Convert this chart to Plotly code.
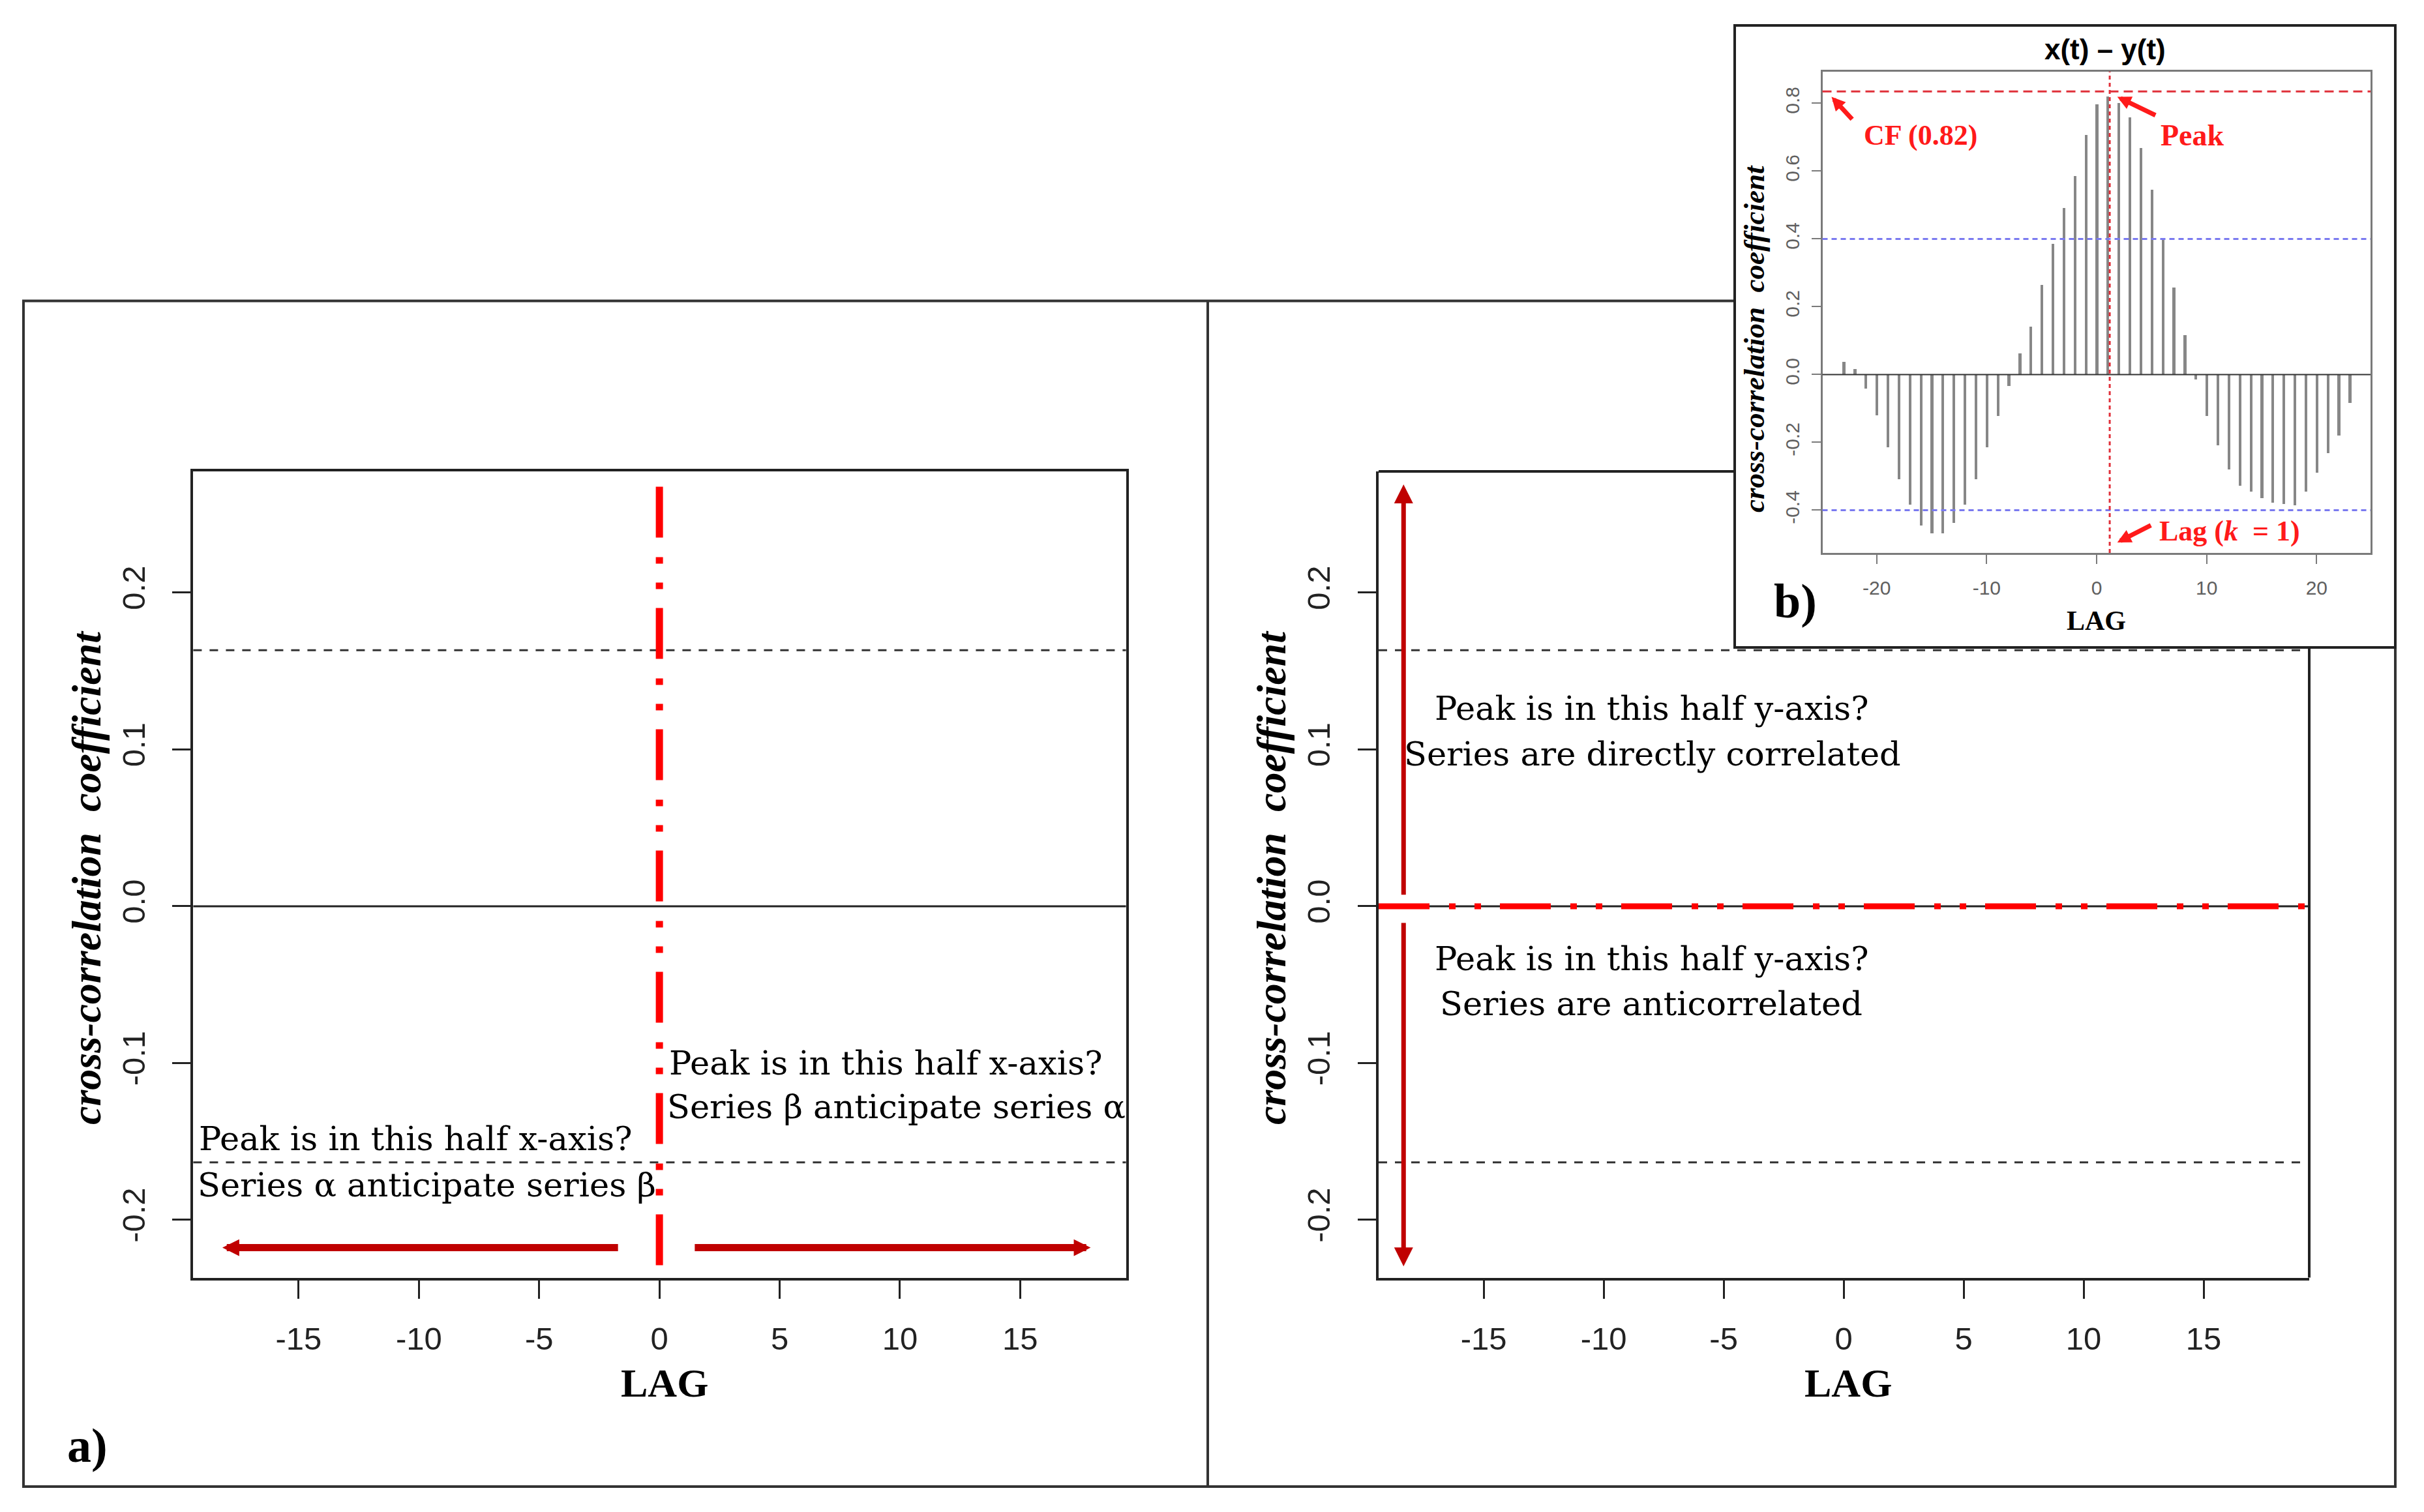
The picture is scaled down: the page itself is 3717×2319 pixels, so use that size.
import plotly.graph_objects as go

W, H = 3717, 2319
OFF = 8  # the page body has an 8px margin; shift content back by that much
SERIF = 'Liberation Serif'
TEXT_SERIF = 'DejaVu Serif'
SANS = 'Liberation Sans'

# ---- data ---------------------------------------------------------------
# inset b): cross-correlation x(t) - y(t), lags -23..23
lags = list(range(-23, 24))
ccf = [0.037, 0.017, -0.042, -0.121, -0.214, -0.309, -0.384, -0.445, -0.468, -0.468,
       -0.438, -0.384, -0.309, -0.214, -0.123, -0.033, 0.063, 0.142, 0.265, 0.386,
       0.492, 0.585, 0.706, 0.796, 0.820, 0.801, 0.759, 0.669, 0.545, 0.400,
       0.256, 0.116, -0.014, -0.123, -0.209, -0.279, -0.328, -0.345, -0.365, -0.377,
       -0.382, -0.386, -0.345, -0.289, -0.231, -0.179, -0.084]

cf_line = 0.835      # red dashed level at the peak, CF (0.82)
peak_lag = 1.19      # red dashed vertical, k = 1
inset_conf = 0.4     # blue dotted bounds

main_conf = 0.1633   # black dashed bounds in the two big panels
main_xrange = [-19.38, 19.4]
main_yrange = [-0.2368, 0.2773]
inset_xrange = [-24.93, 24.9]
inset_yrange = [-0.526, 0.893]

main_xticks = [-15, -10, -5, 0, 5, 10, 15]
main_xlabels = ['-15', '-10', '-5', '0', '5', '10', '15']
main_yticks = [-0.2, -0.1, 0.0, 0.1, 0.2]
main_ylabels = ['-0.2', '-0.1', '0.0', '0.1', '0.2']
inset_xticks = [-20, -10, 0, 10, 20]
inset_xlabels = ['-20', '-10', '0', '10', '20']
inset_yticks = [-0.4, -0.2, 0.0, 0.2, 0.4, 0.6, 0.8]
inset_ylabels = ['-0.4', '-0.2', '0.0', '0.2', '0.4', '0.6', '0.8']

lag0_span = [0.2675, -0.233]   # red dash-dot at lag 0 in a)

# arrows: (tail, head) in data units
arrow_a_right = ((1.43, -0.2177), (17.93, -0.2177))
arrow_a_left = ((-1.68, -0.2177), (-18.17, -0.2177))
arrow_c_up = ((-18.34, 0.0067), (-18.34, 0.269))
arrow_c_down = ((-18.34, -0.010), (-18.34, -0.2296))

a_left_text = ['Peak is in this half x-axis?', 'Series α anticipate series β']
a_right_text = ['Peak is in this half x-axis?', 'Series β anticipate series α']
c_top_text = ['Peak is in this half y-axis?', 'Series are directly correlated']
c_bottom_text = ['Peak is in this half y-axis?', 'Series are anticorrelated']


def px(x):
    return (x - OFF) / W


def py(y):
    return 1 - (y - OFF) / H


DASHDOT = '78px,30px,10px,29px,10px,29px'

fig = go.Figure()

# inset bars
fig.add_trace(go.Bar(x=lags, y=ccf, width=0.25, marker=dict(color='#878787', line=dict(width=0)),
                     xaxis='x3', yaxis='y3', showlegend=False))

# red dash-dot lines
fig.add_trace(go.Scatter(x=[0, 0], y=lag0_span, mode='lines', showlegend=False,
                         line=dict(color='#FF0000', width=11, dash=DASHDOT), xaxis='x', yaxis='y'))
fig.add_trace(go.Scatter(x=main_xrange, y=[0, 0], mode='lines', showlegend=False,
                         line=dict(color='#FF0000', width=9, dash=DASHDOT), xaxis='x2', yaxis='y2'))

main_ax = dict(showline=True, linewidth=4, linecolor='#222', ticks='outside', ticklen=28,
               tickwidth=3, tickcolor='#222', showgrid=False, zeroline=False,
               tickfont=dict(family=SANS, size=49, color='#222'))
inset_ax = dict(showline=True, linewidth=3, linecolor='#7a7a7a', mirror=True, ticks='outside',
                ticklen=14, tickwidth=2, tickcolor='#7a7a7a', showgrid=False, zeroline=False,
                tickfont=dict(family=SANS, size=30, color='#606060'))

fig.update_layout(
    width=W, height=H, autosize=False,
    margin=dict(l=0, r=0, t=0, b=0),
    paper_bgcolor='white', plot_bgcolor='white',
    showlegend=False, bargap=0,
    xaxis=dict(main_ax, domain=[px(296.4), px(1726.6)], anchor='y', range=main_xrange,
               tickvals=main_xticks, ticktext=main_xlabels, mirror=True, ticklabelstandoff=20),
    yaxis=dict(main_ax, domain=[py(1959.5), py(723)], anchor='x', range=main_yrange,
               tickvals=main_yticks, ticktext=main_ylabels, tickangle=-90, mirror=True,
               ticklabelstandoff=23),
    xaxis2=dict(main_ax, domain=[px(2114), px(3541)], anchor='y2', range=main_xrange,
                tickvals=main_xticks, ticktext=main_xlabels, ticklabelstandoff=20),
    yaxis2=dict(main_ax, domain=[py(1959.5), py(723)], anchor='x2', range=main_yrange,
                tickvals=main_yticks, ticktext=main_ylabels, tickangle=-90, ticklabelstandoff=23),
    xaxis3=dict(inset_ax, domain=[px(2794.5), px(3635)], anchor='y3', range=inset_xrange,
                tickvals=inset_xticks, ticktext=inset_xlabels, ticklabelstandoff=11),
    yaxis3=dict(inset_ax, domain=[py(848), py(110)], anchor='x3', range=inset_yrange,
                tickvals=inset_yticks, ticktext=inset_ylabels, tickangle=-90, ticklabelstandoff=7),
)

shapes = []
# outer frames
shapes.append(dict(type='rect', xref='paper', yref='paper', x0=px(36), x1=px(3673),
                   y0=py(2280), y1=py(461.5), line=dict(color='#333', width=4), layer='below'))
shapes.append(dict(type='line', xref='paper', yref='paper', x0=px(1852), x1=px(1852),
                   y0=py(2280), y1=py(461.5), line=dict(color='#333', width=4), layer='below'))
# inset box on top of the frames
shapes.append(dict(type='rect', xref='paper', yref='paper', x0=px(2660), x1=px(3673),
                   y0=py(993), y1=py(39), fillcolor='white', line=dict(color='#222', width=4),
                   layer='below'))
# right panel: visible parts of top / right frame edges
shapes.append(dict(type='line', xref='x2 domain', yref='y2 domain', x0=0, x1=(2660 - 2114) / (3541 - 2114),
                   y0=1, y1=1, line=dict(color='#222', width=4)))
shapes.append(dict(type='line', xref='x2 domain', yref='y2 domain', x0=1, x1=1,
                   y0=0, y1=(1959.5 - 993) / (1959.5 - 723), line=dict(color='#222', width=4)))
# zero lines and dashed bounds in both panels
for xr, yr in [('x', 'y'), ('x2', 'y2')]:
    shapes.append(dict(type='line', xref=xr + ' domain', yref=yr, x0=0, x1=1, y0=0, y1=0,
                       line=dict(color='#222', width=3), layer='below'))
    for v in (main_conf, -main_conf):
        shapes.append(dict(type='line', xref=xr + ' domain', yref=yr, x0=0, x1=1, y0=v, y1=v,
                           line=dict(color='#333', width=3, dash='13px,12px'), layer='below'))
# inset guides
shapes.append(dict(type='line', xref='x3 domain', yref='y3', x0=0, x1=1, y0=0, y1=0,
                   line=dict(color='#333', width=2)))
for v in (inset_conf, -inset_conf):
    shapes.append(dict(type='line', xref='x3 domain', yref='y3', x0=0, x1=1, y0=v, y1=v,
                       line=dict(color='#7a7af0', width=3, dash='8px,6px')))
shapes.append(dict(type='line', xref='x3 domain', yref='y3', x0=0, x1=1, y0=cf_line, y1=cf_line,
                   line=dict(color='#e0303a', width=3, dash='14px,8px')))
shapes.append(dict(type='line', xref='x3', yref='y3 domain', x0=peak_lag, x1=peak_lag, y0=0, y1=1,
                   line=dict(color='#e0303a', width=3, dash='6px,5px')))
fig.update_layout(shapes=shapes)

ann = []


def text(t, x, y, size, family=SERIF, color='black', weight='normal', style='normal',
         xanchor='center', angle=0):
    ann.append(dict(text=t, x=px(x), y=py(y), xref='paper', yref='paper', showarrow=False,
                    xanchor=xanchor, yanchor='middle', textangle=angle,
                    font=dict(family=family, size=size, color=color, weight=weight, style=style)))


def arrow(tail, head, xr, yr, color, width, size):
    ann.append(dict(text='', x=head[0], y=head[1], ax=tail[0], ay=tail[1], xref=xr, yref=yr,
                    axref=xr, ayref=yr, showarrow=True, arrowhead=2, arrowsize=size,
                    arrowwidth=width, arrowcolor=color))


# panel a) texts
text(a_left_text[0], 303, 1746, 51, family=TEXT_SERIF, xanchor='left')
text(a_left_text[1], 301, 1817, 51, family=TEXT_SERIF, xanchor='left')
text(a_right_text[0], 1024, 1630, 51, family=TEXT_SERIF, xanchor='left')
text(a_right_text[1], 1021, 1697, 51, family=TEXT_SERIF, xanchor='left')
# right panel texts
text(c_top_text[0], 2533, 1086, 51, family=TEXT_SERIF)
text(c_top_text[1], 2534, 1156, 51, family=TEXT_SERIF)
text(c_bottom_text[0], 2533, 1470, 51, family=TEXT_SERIF)
text(c_bottom_text[1], 2532, 1539, 51, family=TEXT_SERIF)
# axis titles
for cx in (1019, 2834):
    text('LAG', cx, 2121, 62, weight='bold')
for cx in (132, 1949):
    text('cross-correlation  coefficient', cx, 1346, 64, weight='bold', style='italic', angle=-90)
text('a)', 134, 2217, 74, weight='bold')

# inset texts
text('x(t) – y(t)', 3228, 76, 44, family=SANS, weight='bold')
text('LAG', 3214, 952, 42, weight='bold')
text('b)', 2753, 922, 74, weight='bold')
text('cross-correlation  coefficient', 2690, 520, 45, weight='bold', style='italic', angle=-90)
text('CF (0.82)', 2945, 207, 44, color='#ff1a1a', weight='bold')
text('Peak', 3362, 207, 46, color='#ff1a1a', weight='bold')
text('Lag (<i>k</i>  = 1)', 3419, 815, 44, color='#ff1a1a', weight='bold')

# arrows
for tail, head in (arrow_a_right, arrow_a_left):
    arrow(tail, head, 'x', 'y', '#c00000', 11, 0.47)
for tail, head in (arrow_c_up, arrow_c_down):
    arrow(tail, head, 'x2', 'y2', '#c00000', 7, 0.83)

# inset pointer arrows (pixel offsets for the tails)
for hx, hy, dx, dy in [(-24.1, 0.819, 33, 36), (1.88, 0.819, 60, 29), (1.88, -0.495, 53, -27)]:
    ann.append(dict(text='', x=hx, y=hy, xref='x3', yref='y3', ax=dx, ay=dy, showarrow=True,
                    arrowhead=2, arrowsize=0.6, arrowwidth=7, arrowcolor='#ff1a1a'))

fig.update_layout(annotations=ann)

fig.write_html('out.html')
